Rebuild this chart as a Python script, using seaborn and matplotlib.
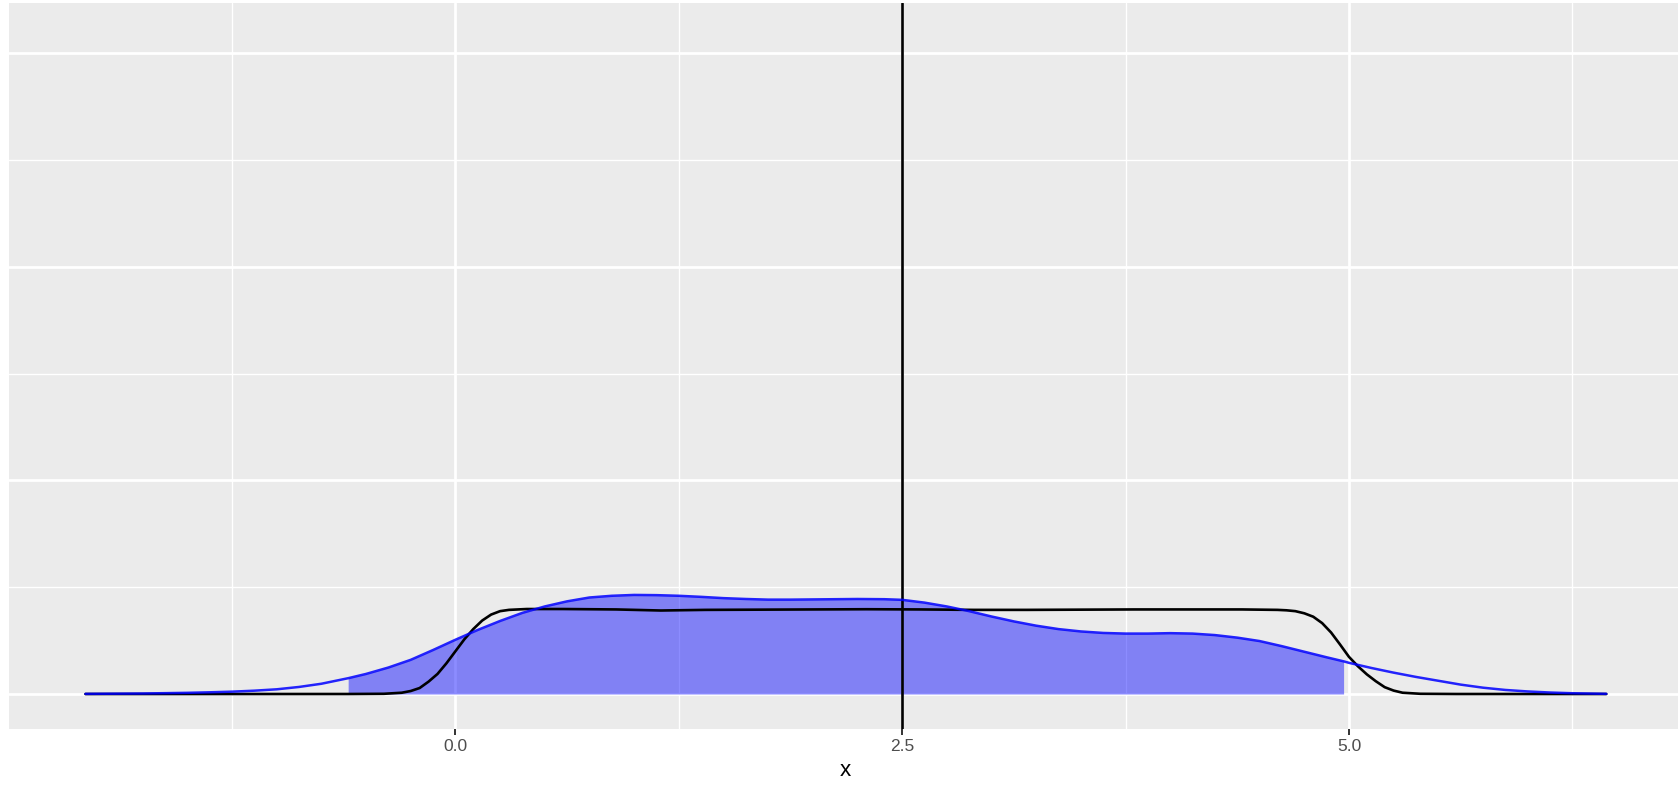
import matplotlib
matplotlib.use("Agg")
import matplotlib.pyplot as plt
import numpy as np
import pandas as pd
import seaborn as sns

# Narrow-bandwidth density (black)
black_x = [-2.07, -0.6, -0.4, -0.3, -0.25, -0.2, -0.15, -0.1, -0.05, 0.0, 0.05, 0.1,
           0.15, 0.2, 0.25, 0.3, 0.4, 0.6, 0.9, 1.15, 1.4, 1.7, 2.0, 2.3, 2.6, 2.9,
           3.2, 3.5, 3.8, 4.1, 4.4, 4.6, 4.65, 4.7, 4.75, 4.8, 4.85, 4.9, 4.95, 5.0,
           5.05, 5.1, 5.15, 5.2, 5.25, 5.3, 5.4, 5.6, 6.44]
black_y = [0.0, 0.0, 0.0005, 0.003, 0.007, 0.014, 0.029, 0.047, 0.072, 0.100, 0.128, 0.152,
           0.172, 0.186, 0.194, 0.197, 0.199, 0.199, 0.198, 0.1955, 0.197, 0.1975, 0.198, 0.1985, 0.198, 0.197,
           0.197, 0.1975, 0.198, 0.198, 0.198, 0.197, 0.196, 0.194, 0.189, 0.181, 0.166, 0.144, 0.116, 0.087,
           0.065, 0.046, 0.030, 0.016, 0.008, 0.003, 0.0005, 0.0, 0.0]

# Wide-bandwidth density (blue)
blue_x = [-2.07, -1.75, -1.5, -1.375, -1.25, -1.125, -1.0, -0.875, -0.75, -0.6, -0.5, -0.375,
          -0.25, -0.125, 0.0, 0.125, 0.25, 0.375, 0.5, 0.625, 0.75, 0.875, 1.0, 1.125,
          1.25, 1.375, 1.5, 1.625, 1.75, 1.875, 2.0, 2.125, 2.25, 2.4, 2.5, 2.625,
          2.75, 2.875, 3.0, 3.125, 3.25, 3.375, 3.5, 3.625, 3.75, 3.875, 4.0, 4.125,
          4.25, 4.375, 4.5, 4.625, 4.75, 4.875, 4.97, 5.0, 5.125, 5.25, 5.375, 5.5,
          5.625, 5.75, 5.875, 6.0, 6.125, 6.25, 6.44]
blue_y = [0.0003, 0.0012, 0.0028, 0.0040, 0.0055, 0.0078, 0.011, 0.0165, 0.024, 0.037, 0.047, 0.062,
          0.080, 0.103, 0.127, 0.150, 0.171, 0.190, 0.205, 0.217, 0.226, 0.230, 0.232, 0.2315,
          0.230, 0.2275, 0.2245, 0.2225, 0.221, 0.221, 0.2215, 0.222, 0.2225, 0.222, 0.2205, 0.214,
          0.205, 0.194, 0.1815, 0.170, 0.160, 0.152, 0.1465, 0.143, 0.1415, 0.1415, 0.1425, 0.1415,
          0.138, 0.132, 0.124, 0.112, 0.099, 0.086, 0.0765, 0.073, 0.061, 0.050, 0.040, 0.031,
          0.022, 0.0148, 0.0095, 0.006, 0.0035, 0.0018, 0.0004]

# Shaded interval under the blue density and the reference line
shade_lo = -0.6
shade_hi = 4.97
vline_x = 2.5

x_ticks = [0.0, 2.5, 5.0]
x_tick_labels = ["0.0", "2.5", "5.0"]
x_minor = [-1.25, 1.25, 3.75, 6.25]
y_major = [0.0, 0.5, 1.0, 1.5]
y_minor = [0.25, 0.75, 1.25]

black_df = pd.DataFrame({"x": black_x, "density": black_y})
blue_df = pd.DataFrame({"x": blue_x, "density": blue_y})

sns.set_theme(style="darkgrid", rc={
    "axes.facecolor": "#EBEBEB",
    "grid.color": "white",
    "axes.edgecolor": "#EBEBEB",
})
plt.rcParams["font.family"] = ["Liberation Sans", "DejaVu Sans"]

W, H = 1678, 788
fig = plt.figure(figsize=(W / 100, H / 100), dpi=100)
left, right, top, bottom = 8.6, 1682.8, 3.0, 728.6
ax = fig.add_axes([left / W, 1 - bottom / H, (right - left) / W, (bottom - top) / H])

ax.set_xlim(-2.5, 6.868)
ax.set_ylim(-0.081, 1.618)

ax.set_xticks(x_ticks)
ax.set_xticklabels(x_tick_labels)
ax.set_xticks(x_minor, minor=True)
ax.set_yticks(y_major)
ax.set_yticklabels([])
ax.set_yticks(y_minor, minor=True)

ax.grid(which="major", color="white", linewidth=2.0)
ax.grid(which="minor", color="white", linewidth=1.0)
ax.set_axisbelow(True)
for s in ax.spines.values():
    s.set_visible(False)

ax.tick_params(axis="x", which="major", length=4, width=1.4, color="#333333",
               labelsize=12.5, labelcolor="#4D4D4D", pad=3.5, bottom=True)
ax.tick_params(axis="x", which="minor", length=0)
ax.tick_params(axis="y", which="both", length=0, left=False)

sns.lineplot(data=black_df, x="x", y="density", color="black", linewidth=1.9,
             ax=ax, sort=False, estimator=None)
ax.axvline(vline_x, color="black", linewidth=1.9)

bx = np.array(blue_x)
by = np.array(blue_y)
mask = (bx >= shade_lo) & (bx <= shade_hi)
ax.fill_between(bx, 0, by, where=mask, color="#0000FF", alpha=0.45, linewidth=0)

sns.lineplot(data=blue_df, x="x", y="density", color="#0000FF", linewidth=1.8,
             ax=ax, sort=False, estimator=None, alpha=0.85)

ax.set_xlabel("x", fontsize=16.2, color="black", labelpad=4)
ax.set_ylabel("")

fig.savefig("out.png", dpi=100)
